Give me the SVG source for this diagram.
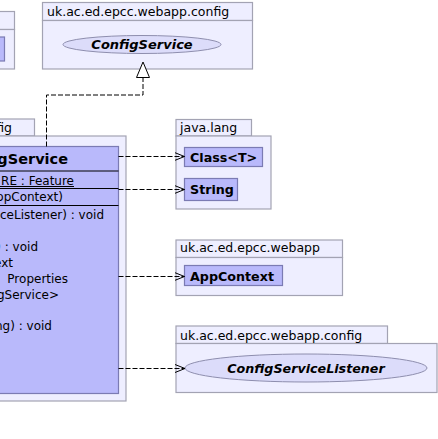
<svg xmlns="http://www.w3.org/2000/svg" width="438" height="439" viewBox="0 0 438 439">
<style>
.pkg{fill:#eeeeff;stroke:#a3a3b3;stroke-width:1.2}
.cls{fill:#b9b9fb;stroke:#7b7bb3;stroke-width:1.2}
.ell{fill:#dcdcfa;stroke:#8e8eae;stroke-width:1}
.sep{stroke:#000;stroke-width:1}
.pl{font-family:"DejaVu Sans",sans-serif;font-size:12.5px;fill:#000}
.cn{font-family:"DejaVu Sans",sans-serif;font-size:12.7px;font-weight:bold;fill:#000}
.in{font-family:"DejaVu Sans",sans-serif;font-size:13px;font-weight:bold;font-style:italic;fill:#000}
.mb{font-family:"DejaVu Sans",sans-serif;font-size:12px;fill:#000}
.dep{fill:none;stroke:#000;stroke-width:1;stroke-dasharray:5,2}
</style>
<defs>
<marker id="open" markerUnits="userSpaceOnUse" markerWidth="12" markerHeight="10" refX="10" refY="4.5" orient="auto">
<path d="M0,0.5 L10,4.5 L0,8.5" fill="none" stroke="#000" stroke-width="1"/>
</marker>
</defs>
<g id="pkg-left-top">
<rect class="pkg" x="-10" y="11.5" width="24.5" height="18"/>
<rect class="pkg" x="-10" y="29.5" width="24.5" height="39.5"/>
<rect class="cls" x="-10" y="37" width="14.5" height="24"/>
</g>
<g id="pkg-config-top">
<rect class="pkg" x="42.5" y="2.5" width="210" height="18"/>
<rect class="pkg" x="42.5" y="20.5" width="210" height="48.5"/>
<text class="pl" x="47" y="15.5">uk.ac.ed.epcc.webapp.config</text>
</g>
<g id="ConfigService">
<ellipse class="ell" cx="142" cy="44.5" rx="79" ry="9"/>
<text class="in" x="142" y="49" text-anchor="middle">ConfigService</text>
</g>
<g id="pkg-main">
<rect class="pkg" x="-10" y="119" width="44.5" height="17"/>
<rect class="pkg" x="-10" y="136" width="136" height="265"/>
<text class="pl" x="12" y="131.5" text-anchor="end">fig</text>
</g>
<g id="ConfigServiceImpl">
<rect class="cls" x="-10" y="146.5" width="128.5" height="247"/>
<text class="mb" x="68" y="164" text-anchor="end" style="font-size:14.5px;font-weight:bold">gService</text>
<line class="sep" x1="-10" y1="171" x2="118.5" y2="171"/>
<text class="mb" x="74" y="185" text-anchor="end">RE : Feature</text>
<line class="sep" x1="-10" y1="186.5" x2="74" y2="186.5"/>
<line class="sep" x1="-10" y1="188.5" x2="118.5" y2="188.5"/>
<text class="mb" x="63" y="201" text-anchor="end">ppContext)</text>
<line class="sep" x1="-10" y1="205.5" x2="118.5" y2="205.5"/>
<text class="mb" x="104" y="219" text-anchor="end">ceListener) : void</text>
<text class="mb" x="38" y="251" text-anchor="end">) : void</text>
<text class="mb" x="13" y="267" text-anchor="end">ext</text>
<text class="mb" x="68" y="283" text-anchor="end">Properties</text>
<text class="mb" x="59" y="299" text-anchor="end">gService&gt;</text>
<text class="mb" x="52" y="330" text-anchor="end">ng) : void</text>
</g>
<g id="pkg-java-lang">
<rect class="pkg" x="176" y="119.5" width="75.5" height="16.5"/>
<rect class="pkg" x="176" y="136" width="95" height="73"/>
<text class="pl" x="180" y="131.5">java.lang</text>
</g>
<g id="Class">
<rect class="cls" x="184.5" y="147.5" width="78" height="19"/>
<text class="cn" x="190" y="161.5">Class&lt;T&gt;</text>
</g>
<g id="String">
<rect class="cls" x="184.5" y="178.5" width="53" height="22"/>
<text class="cn" x="190" y="194">String</text>
</g>
<g id="pkg-webapp">
<rect class="pkg" x="176" y="240" width="166.5" height="17.5"/>
<rect class="pkg" x="176" y="257.5" width="166.5" height="38"/>
<text class="pl" x="180" y="252">uk.ac.ed.epcc.webapp</text>
</g>
<g id="AppContext">
<rect class="cls" x="184.5" y="265.5" width="98" height="20"/>
<text class="cn" x="190" y="280.5">AppContext</text>
</g>
<g id="pkg-config-bottom">
<rect class="pkg" x="176" y="326" width="211.5" height="17.5"/>
<rect class="pkg" x="176" y="343.5" width="261" height="49"/>
<text class="pl" x="180" y="339.5">uk.ac.ed.epcc.webapp.config</text>
</g>
<g id="ConfigServiceListener">
<ellipse class="ell" cx="306" cy="368" rx="121" ry="14"/>
<text class="in" x="306" y="372.5" text-anchor="middle" style="font-size:12.7px">ConfigServiceListener</text>
</g>
<g id="connectors">
<path class="dep" d="M46.5,146.5 V95 H143 V77"/>
<path d="M143,62 L136.5,77.5 L149.5,77.5 Z" fill="#fff" stroke="#000" stroke-width="1"/>
<path class="dep" d="M118.5,156.5 H184.5" marker-end="url(#open)"/>
<path class="dep" d="M118.5,189.5 H184.5" marker-end="url(#open)"/>
<path class="dep" d="M118.5,276.5 H184.5" marker-end="url(#open)"/>
<path class="dep" d="M118.5,368.5 H185" marker-end="url(#open)"/>
</g>
</svg>
